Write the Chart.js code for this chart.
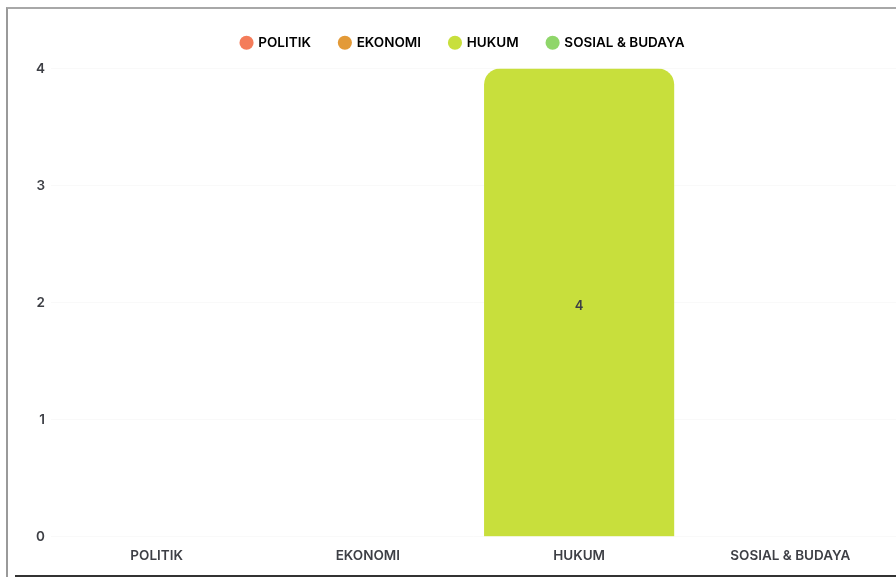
<!DOCTYPE html>
<html>
<head>
<meta charset="utf-8">
<script src="https://cdn.jsdelivr.net/npm/chart.js@4"></script>
<style>
  html, body { margin: 0; padding: 0; background: #fff; }
  #frame {
    position: absolute; left: 6px; top: 7px; width: 890px; height: 568px;
    border-left: 2px solid #9a9a9a; border-top: 2px solid #a8a8a8;
  }
  #bottomLine {
    position: absolute; left: 15px; top: 575px; width: 881px; height: 2px;
    background: #333;
  }
  #wrap { position: absolute; left: 8px; top: 9px; width: 888px; height: 560px; }
</style>
</head>
<body>
<div id="frame"></div>
<div id="bottomLine"></div>
<div id="wrap"><canvas id="chart"></canvas></div>
<script>
const categories = ['POLITIK', 'EKONOMI', 'HUKUM', 'SOSIAL & BUDAYA'];
const counts = [0, 0, 4, 0];
const colors = ['#f47c5a', '#e39a38', '#c8df3c', '#8fd66a'];
const yTicks = [0, 1, 2, 3, 4];

const textColor = '#3d3f45';
const font = { family: 'Inter', size: 13.5, weight: 600 };

// draws the value in the middle of each bar
const valueLabels = {
    id: 'valueLabels',
    afterDatasetsDraw(chart) {
        const ctx = chart.ctx;
        const meta = chart.getDatasetMeta(0);
        ctx.save();
        ctx.font = '600 13px Inter';
        ctx.fillStyle = textColor;
        ctx.textAlign = 'center';
        ctx.textBaseline = 'middle';
        meta.data.forEach((bar, i) => {
            if (!counts[i]) return;
            ctx.fillText(counts[i], bar.x, (bar.y + bar.base) / 2 + 4);
        });
        ctx.restore();
    }
};

// a bit more room under the legend
const legendGap = {
    id: 'legendGap',
    beforeInit(chart) {
        const fit = chart.legend.fit;
        chart.legend.fit = function () {
            fit.bind(chart.legend)();
            this.height += 9;
        };
    }
};

new Chart(document.getElementById('chart'), {
    type: 'bar',
    data: {
        labels: categories,
        datasets: [{
            data: counts,
            backgroundColor: colors,
            borderRadius: { topLeft: 16, topRight: 16 },
            borderSkipped: 'bottom',
            categoryPercentage: 1,
            barPercentage: 0.9
        }]
    },
    plugins: [valueLabels, legendGap],
    options: {
        responsive: true,
        maintainAspectRatio: false,
        animation: false,
        layout: { padding: { left: 22, right: 0, top: -2, bottom: 2 } },
        plugins: {
            legend: {
                labels: {
                    usePointStyle: true,
                    pointStyle: 'circle',
                    boxWidth: 10,
                    boxHeight: 10,
                    padding: 29,
                    color: textColor,
                    font: font,
                    generateLabels(chart) {
                        return categories.map((c, i) => ({
                            text: c,
                            fillStyle: colors[i],
                            strokeStyle: colors[i],
                            lineWidth: 0,
                            pointStyle: 'circle',
                            hidden: false,
                            index: i
                        }));
                    }
                },
                onClick: null
            },
            tooltip: { enabled: false }
        },
        scales: {
            x: {
                grid: { display: false },
                border: { display: false },
                ticks: { color: textColor, font: font }
            },
            y: {
                min: 0,
                max: 4,
                afterBuildTicks(axis) { axis.ticks = yTicks.map(v => ({ value: v })); },
                grid: { color: 'rgba(0,0,0,0.025)', drawTicks: false },
                border: { display: false },
                ticks: { color: textColor, padding: 6, font: font }
            }
        }
    }
});
</script>
</body>
</html>
